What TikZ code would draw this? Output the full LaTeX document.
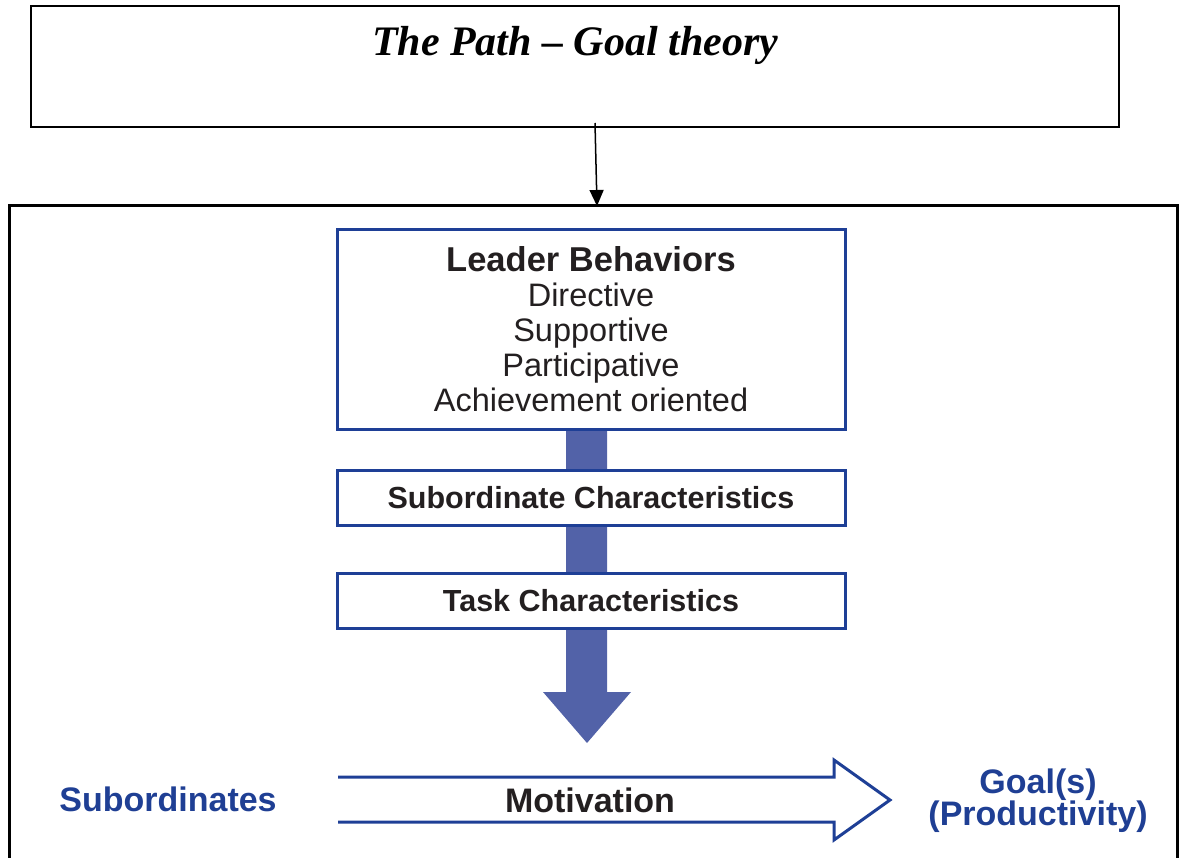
\documentclass[tikz,border=0pt]{standalone}
\usepackage{fontspec}
\setmainfont{Liberation Sans}
\newfontfamily\titlefont[Ligatures=TeX]{Liberation Serif}
\usetikzlibrary{arrows.meta,calc}
\definecolor{lineblue}{HTML}{1E3F96}
\definecolor{shaftblue}{HTML}{5262A8}
\definecolor{textblue}{HTML}{1F3F94}
\definecolor{ink}{HTML}{231F20}
\begin{document}
\begin{tikzpicture}[x=1pt,y=-1pt,
  bluebox/.style={draw=lineblue,line width=3pt,fill=white,minimum width=508pt,inner sep=0pt,text=ink},
  bluelabel/.style={text=textblue,font=\bfseries\fontsize{34}{30}\selectfont,align=center,inner sep=0pt},
  boxlabel/.style={font=\bfseries\fontsize{30.5}{36}\selectfont}]
\useasboundingbox (0,0) rectangle (1184,858);
% top box
\node[draw=black,line width=1.5pt,minimum width=1088pt,minimum height=121pt,inner sep=0pt] (top) at (575,66.5) {};
\node[font=\titlefont\bfseries\itshape\fontsize{42}{50}\selectfont,inner sep=0pt] (title) at (575,45) {The Path – Goal theory};
% outer frame
\draw[line width=3pt] (9,858) -- (9,206) -- (1177,206) -- (1177,858);
\coordinate (arrowstart) at (595,123);
\coordinate (outertop) at (597,206);
\draw[line width=1.5pt,-{Triangle[length=16pt,width=14pt]}] (arrowstart) -- (outertop);
% broad arrow
\fill[shaftblue] (566,430) -- (607,430) -- (607,692) -- (631,692) -- (587,743) -- (543,692) -- (566,692) -- cycle;
% boxes
\node[bluebox,minimum height=200pt,align=center,font=\fontsize{32.5}{35}\selectfont] (leader) at (591,329.5)
  {{\bfseries\fontsize{34.5}{35}\selectfont Leader Behaviors}\\Directive\\Supportive\\Participative\\Achievement oriented};
\node[bluebox,minimum height=54pt,boxlabel] (sub) at (591,498) {Subordinate Characteristics};
\node[bluebox,minimum height=55pt,boxlabel] (task) at (591,600.5) {Task Characteristics};
% motivation arrow
\draw[draw=lineblue,line width=3pt,miter limit=10] (338,777) -- (834,777) -- (834,760) -- (890,800) -- (834,840) -- (834,822) -- (338,822);
\node[font=\bfseries\fontsize{34}{36}\selectfont,text=ink,inner sep=0pt] (motivation) at (590,800) {Motivation};
\node[bluelabel] (subordinates) at (168,799) {Subordinates};
\node[bluelabel] (goal) at (1038,801) {Goal(s)\\[-1pt](Productivity)};
\end{tikzpicture}
\end{document}
